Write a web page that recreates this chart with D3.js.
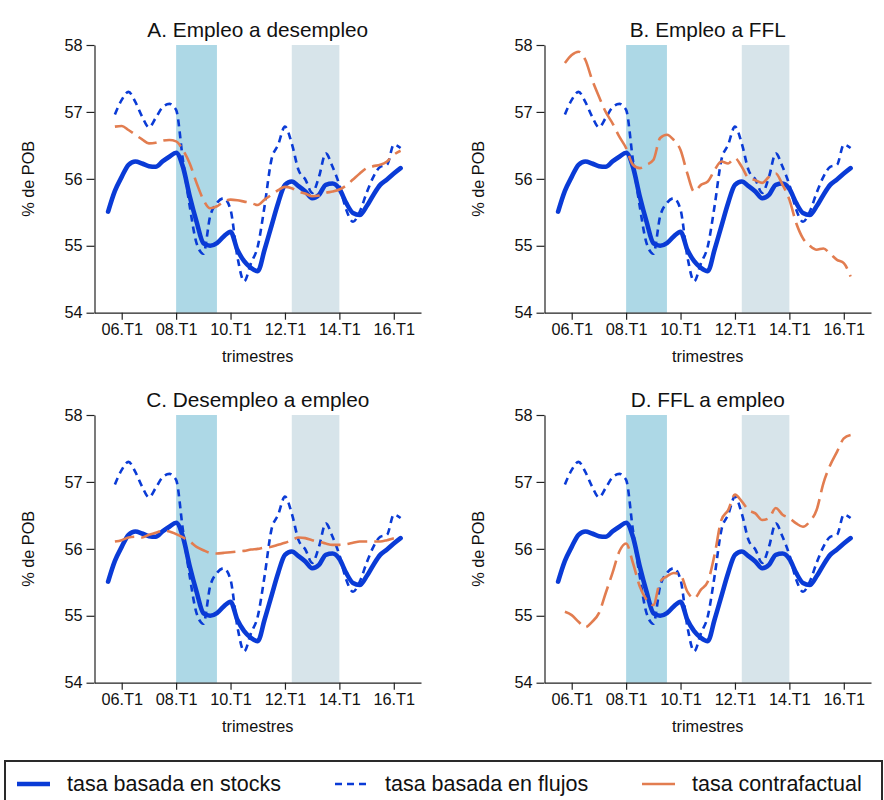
<!DOCTYPE html>
<html>
<head>
<meta charset="utf-8">
<script src="https://cdn.jsdelivr.net/npm/d3@7"></script>
<style>
  html, body { margin: 0; padding: 0; background: #fff; }
  svg { display: block; font-family: "Liberation Sans", Arial, Helvetica, sans-serif; }
</style>
</head>
<body>
<svg id="chart" width="884" height="800"></svg>
<script>
// Quarter index: 0 = 2005.T1
const tickIndex = [4, 12, 20, 28, 36, 44];
const tickLabels = ["06.T1", "08.T1", "10.T1", "12.T1", "14.T1", "16.T1"];
const yTicks = [54, 55, 56, 57, 58];

// Recession / stagnation shading (quarter index ranges)
const shadeDark = [12, 18];
const shadeLight = [29, 36];

// Stock-based rate, from 2005.T3 (index 2)
const stocksStart = 2;
const stocks = [55.51, 55.82, 56.03, 56.21, 56.26, 56.23, 56.19, 56.18, 56.26, 56.33,
  56.39, 56.18, 55.74, 55.36, 55.04, 55.00, 55.04, 55.14, 55.21, 54.94,
  54.77, 54.67, 54.62, 54.94, 55.29, 55.64, 55.91, 55.96, 55.89, 55.81,
  55.71, 55.76, 55.91, 55.93, 55.85, 55.64, 55.49, 55.46, 55.59, 55.76,
  55.91, 55.99, 56.08, 56.16];

// Flow-based rate, from 2005.T4 (index 3)
const flowsStart = 3;
const flows = [56.96, 57.18, 57.30, 57.15, 56.93, 56.77, 56.91, 57.07, 57.12, 57.03,
  56.28, 55.59, 55.04, 54.88, 55.44, 55.64, 55.71, 55.54, 54.84, 54.47,
  54.74, 54.99, 55.59, 56.28, 56.51, 56.78, 56.53, 56.13, 55.99, 55.79,
  56.03, 56.38, 56.18, 55.91, 55.54, 55.36, 55.51, 55.79, 56.03, 56.18,
  56.21, 56.51, 56.46];

// Counterfactual rates, from 2005.T4 (index 3)
const cfStart = 3;
const cfA = [56.78, 56.79, 56.73, 56.66, 56.59, 56.53, 56.54, 56.57, 56.58, 56.56,
  56.43, 56.23, 55.94, 55.69, 55.56, 55.59, 55.66, 55.69, 55.68, 55.66,
  55.64, 55.61, 55.69, 55.76, 55.83, 55.88, 55.86, 55.81, 55.78, 55.74,
  55.75, 55.79, 55.81, 55.84, 55.90, 55.99, 56.08, 56.16, 56.19, 56.21,
  56.26, 56.36, 56.42];
const cfB = [57.73, 57.85, 57.90, 57.78, 57.48, 57.23, 57.00, 56.83, 56.63, 56.46,
  56.21, 56.16, 56.21, 56.28, 56.61, 56.66, 56.58, 56.43, 56.08, 55.81,
  55.91, 55.96, 56.13, 56.26, 56.23, 56.31, 56.18, 56.01, 55.98, 55.94,
  56.03, 56.08, 55.91, 55.69, 55.34, 55.11, 55.00, 54.94, 54.96, 54.88,
  54.79, 54.74, 54.54];
const cfC = [56.11, 56.13, 56.17, 56.18, 56.17, 56.21, 56.24, 56.27, 56.26, 56.22,
  56.17, 56.11, 56.03, 55.98, 55.94, 55.93, 55.94, 55.95, 55.96, 55.97,
  55.99, 56.00, 56.02, 56.03, 56.06, 56.09, 56.13, 56.17, 56.16, 56.13,
  56.11, 56.08, 56.06, 56.06, 56.07, 56.09, 56.11, 56.11, 56.11, 56.11,
  56.13, 56.16, 56.18];
const cfD = [55.06, 55.01, 54.91, 54.83, 54.91, 55.04, 55.34, 55.64, 55.96, 56.08,
  55.79, 55.44, 55.24, 55.16, 55.51, 55.59, 55.64, 55.61, 55.36, 55.26,
  55.39, 55.51, 55.91, 56.43, 56.58, 56.81, 56.71, 56.58, 56.53, 56.43,
  56.46, 56.61, 56.51, 56.46, 56.38, 56.33, 56.41, 56.58, 56.98, 57.25,
  57.45, 57.65, 57.70];

const panelTitles = ["A. Empleo a desempleo", "B. Empleo a FFL", "C. Desempleo a empleo", "D. FFL a empleo"];
const counterfactuals = [cfA, cfB, cfC, cfD];
const legendLabels = ["tasa basada en stocks", "tasa basada en flujos", "tasa contrafactual"];

const colStocks = "#0a3bd6";
const colFlows = "#0a3bd6";
const colCf = "#e27d50";
const colDark = "#add8e6";
const colLight = "#d7e4ea";

const svg = d3.select("#chart");

const offsets = [[0, 0], [450, 0], [0, 370], [450, 370]];

function toPoints(arr, start) {
  return arr.map((v, i) => [start + i, v]);
}

offsets.forEach((off, p) => {
  const g = svg.append("g").attr("transform", `translate(${off[0]},${off[1]})`);
  const x = d3.scaleLinear().domain([0, 48]).range([94.5, 421]);
  const y = d3.scaleLinear().domain([54, 58]).range([312.7, 45]);

  // shaded periods
  g.append("rect").attr("x", x(shadeDark[0])).attr("width", x(shadeDark[1]) - x(shadeDark[0]))
    .attr("y", y(58)).attr("height", y(54) - y(58)).attr("fill", colDark);
  g.append("rect").attr("x", x(shadeLight[0])).attr("width", x(shadeLight[1]) - x(shadeLight[0]))
    .attr("y", y(58)).attr("height", y(54) - y(58)).attr("fill", colLight);

  const line = d3.line().x(d => x(d[0])).y(d => y(d[1])).curve(d3.curveMonotoneX);

  g.append("path").datum(toPoints(stocks, stocksStart)).attr("d", line)
    .attr("fill", "none").attr("stroke", colStocks).attr("stroke-width", 4.6)
    .attr("stroke-linejoin", "round").attr("stroke-linecap", "round");
  g.append("path").datum(toPoints(flows, flowsStart)).attr("d", line)
    .attr("fill", "none").attr("stroke", colFlows).attr("stroke-width", 2.6)
    .attr("stroke-dasharray", "7,5");
  g.append("path").datum(toPoints(counterfactuals[p], cfStart)).attr("d", line)
    .attr("fill", "none").attr("stroke", colCf).attr("stroke-width", 2.6)
    .attr("stroke-dasharray", "20,7");

  // axes
  const xAxis = d3.axisBottom(x).tickValues(tickIndex)
    .tickFormat((d, i) => tickLabels[i]).tickSize(7).tickSizeOuter(0).tickPadding(4);
  const gx = g.append("g").attr("transform", `translate(0,${y(54)})`).call(xAxis);
  const yAxis = d3.axisLeft(y).tickValues(yTicks).tickFormat(d3.format("d"))
    .tickSize(8).tickSizeOuter(0).tickPadding(4);
  const gy = g.append("g").attr("transform", `translate(${x(0)},0)`).call(yAxis);
  [gx, gy].forEach(a => {
    a.selectAll("path.domain").attr("stroke", "#222").attr("stroke-width", 1.2);
    a.selectAll(".tick line").attr("stroke", "#222").attr("stroke-width", 1.2);
    a.selectAll(".tick text").attr("fill", "#111").style("font-size", "16.3px")
      .style("font-family", "'Liberation Sans', Arial, sans-serif");
  });

  g.append("text").attr("x", (x(0) + x(48)) / 2).attr("y", 36.7)
    .attr("text-anchor", "middle").attr("fill", "#111").style("font-size", "20.8px")
    .text(panelTitles[p]);
  g.append("text").attr("x", (x(0) + x(48)) / 2).attr("y", 362)
    .attr("text-anchor", "middle").attr("fill", "#111").style("font-size", "16.3px")
    .text("trimestres");
  g.append("text").attr("transform", `translate(34,${(y(54) + y(58)) / 2}) rotate(-90)`)
    .attr("text-anchor", "middle").attr("fill", "#111").style("font-size", "16.3px")
    .text("% de POB");
});

// legend
const lg = svg.append("g");
lg.append("rect").attr("x", 5).attr("y", 761).attr("width", 877).attr("height", 60)
  .attr("fill", "#fff").attr("stroke", "#2a2a2a").attr("stroke-width", 2);
const legendItems = [
  { x0: 17, x1: 50, tx: 67, color: colStocks, w: 4.6, dash: null },
  { x0: 335, x1: 368, tx: 385, color: colFlows, w: 2.6, dash: "7,5" },
  { x0: 642, x1: 675, tx: 692, color: colCf, w: 2.6, dash: null }
];
legendItems.forEach((it, i) => {
  lg.append("line").attr("x1", it.x0).attr("x2", it.x1).attr("y1", 784).attr("y2", 784)
    .attr("stroke", it.color).attr("stroke-width", it.w)
    .attr("stroke-dasharray", it.dash);
  lg.append("text").attr("x", it.tx).attr("y", 791).attr("fill", "#111")
    .style("font-size", "21.5px").text(legendLabels[i]);
});
</script>
</body>
</html>
